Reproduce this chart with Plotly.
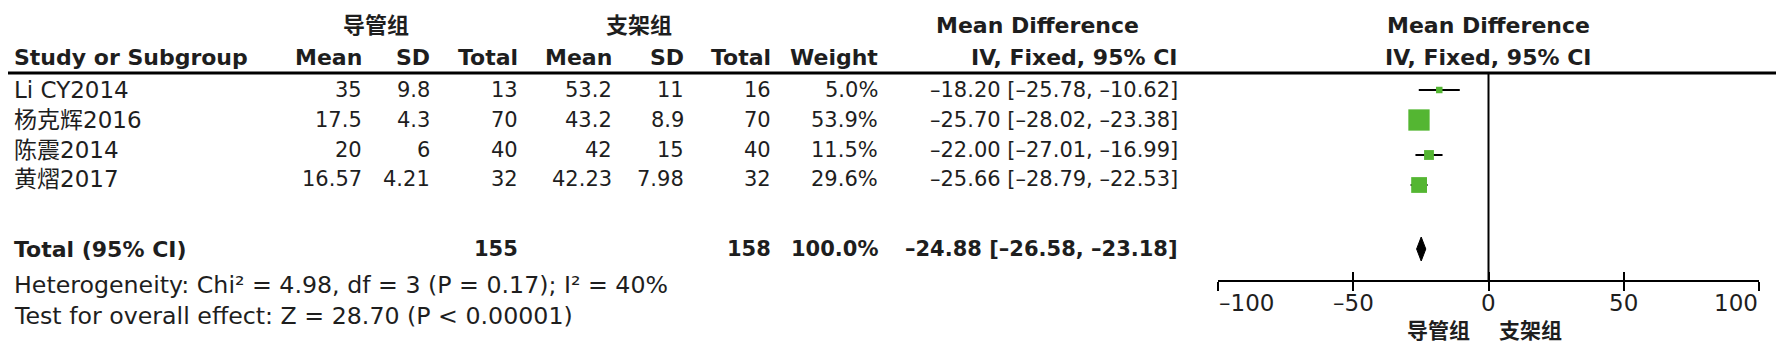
import plotly.graph_objects as go
import numpy as np

# ---------------- data ----------------
studies = ["Li CY2014", "杨克辉2016", "陈震2014", "黄熠2017"]
mean1 = [35, 17.5, 20, 16.57]
sd1 = [9.8, 4.3, 6, 4.21]
n1 = [13, 70, 40, 32]
mean2 = [53.2, 43.2, 42, 42.23]
sd2 = [11, 8.9, 15, 7.98]
n2 = [16, 70, 40, 32]
weight = [5.0, 53.9, 11.5, 29.6]
md = [-18.20, -25.70, -22.00, -25.66]
lo = [-25.78, -28.02, -27.01, -28.79]
hi = [-10.62, -23.38, -16.99, -22.53]

total_n1 = 155
total_n2 = 158
total_weight = 100.0
total_md = -24.88
total_lo = -26.58
total_hi = -23.18

group1 = "导管组"
group2 = "支架组"
heterogeneity = "Heterogeneity: Chi² = 4.98, df = 3 (P = 0.17); I² = 40%"
overall = "Test for overall effect: Z = 28.70 (P < 0.00001)"
tickvals = [-100, -50, 0, 50, 100]
ticktext = ["–100", "–50", "0", "50", "100"]

# ---------------- layout constants ----------------
W, H = 1789, 351
FONT = "DejaVu Sans, Noto Sans CJK SC, sans-serif"
FS = 21          # numbers
FS_LABEL = 23    # study names
FS_FOOT = 23.7   # footer lines
FS_HEAD = 22     # bold headers
FS_TICK = 23
TXT = "#1e1e1e"
GREEN = "rgb(84,182,50)"

row_text_y = [90, 120, 150, 179]
row_mark_y = [90, 120, 155, 185]
total_y = 249
het_y = 285
test_y = 316
hdr1_y = 25
hdr2_y = 57
line_y = 73
axis_y = 281
tick_label_y = 303
fav_y = 331

col_left_study = 13
col_mean1 = 363
col_sd1 = 431
col_n1 = 519
col_mean2 = 613
col_sd2 = 685
col_n2 = 772
col_w = 879
col_ci = 1179

x_left_px, x_right_px = 1218, 1759


def fx(px):
    return px / W


def fmt(v):
    return f"{v:g}"


def ci_text(m, l, h):
    return f"{m:.2f} [{l:.2f}, {h:.2f}]".replace("-", "–")


fig = go.Figure()
ann = []


def add(text, x, y, anchor="right", bold=False, size=FS):
    t = f"<b>{text}</b>" if bold else text
    ann.append(dict(text=t, x=fx(x), y=y, xref="paper", yref="y",
                    xanchor=anchor, yanchor="middle", showarrow=False,
                    borderpad=0,
                    font=dict(family=FONT, size=size, color=TXT)))


# headers
add(group1, 376, hdr1_y, "center", True, FS_HEAD)
add(group2, 639, hdr1_y, "center", True, FS_HEAD)
add("Mean Difference", 1037, hdr1_y, "center", True, FS_HEAD)
add("Mean Difference", 1488, hdr1_y, "center", True, FS_HEAD)
add("Study or Subgroup", col_left_study, hdr2_y, "left", True, FS_HEAD)
for x, t in [(col_mean1, "Mean"), (col_sd1, "SD"), (col_n1, "Total"),
             (col_mean2, "Mean"), (col_sd2, "SD"), (col_n2, "Total"),
             (col_w, "Weight"), (col_ci, "IV, Fixed, 95% CI")]:
    add(t, x, hdr2_y, "right", True, FS_HEAD)
add("IV, Fixed, 95% CI", 1488, hdr2_y, "center", True, FS_HEAD)

# study rows
for i, s in enumerate(studies):
    y = row_text_y[i]
    add(s, col_left_study, y, "left", size=FS_LABEL)
    add(fmt(mean1[i]), col_mean1, y)
    add(fmt(sd1[i]), col_sd1, y)
    add(fmt(n1[i]), col_n1, y)
    add(fmt(mean2[i]), col_mean2, y)
    add(fmt(sd2[i]), col_sd2, y)
    add(fmt(n2[i]), col_n2, y)
    add(f"{weight[i]:.1f}%", col_w, y)
    add(ci_text(md[i], lo[i], hi[i]), col_ci, y)

# total row
add("Total (95% CI)", col_left_study, total_y, "left", True, FS_HEAD)
add(str(total_n1), col_n1, total_y, "right", True)
add(str(total_n2), col_n2, total_y, "right", True)
add(f"{total_weight:.1f}%", col_w, total_y, "right", True)
add(ci_text(total_md, total_lo, total_hi), col_ci, total_y, "right", True)
add(heterogeneity, col_left_study, het_y, "left", size=FS_FOOT)
add(overall, col_left_study, test_y, "left", size=FS_FOOT)

# axis tick labels (end labels kept inside the axis extent)
for k, (tv, tt) in enumerate(zip(tickvals, ticktext)):
    anchor = "left" if k == 0 else ("right" if k == len(tickvals) - 1 else "center")
    ann.append(dict(text=tt, x=tv, y=tick_label_y, xref="x", yref="y",
                    xanchor=anchor, yanchor="middle", showarrow=False,
                    borderpad=0,
                    font=dict(family=FONT, size=FS_TICK, color=TXT)))

# favours labels under axis
ann.append(dict(text=f"<b>{group1}</b>", x=-6, y=fav_y, xref="x", yref="y",
                xanchor="right", yanchor="middle", showarrow=False,
                font=dict(family=FONT, size=FS, color=TXT)))
ann.append(dict(text=f"<b>{group2}</b>", x=3, y=fav_y, xref="x", yref="y",
                xanchor="left", yanchor="middle", showarrow=False,
                font=dict(family=FONT, size=FS, color=TXT)))

# CI lines (drawn first, under the squares)
ci_x, ci_y = [], []
for i in range(len(md)):
    ci_x += [lo[i], hi[i], None]
    ci_y += [row_mark_y[i], row_mark_y[i], None]
fig.add_trace(go.Scatter(x=ci_x, y=ci_y, mode="lines",
                         line=dict(color="black", width=2),
                         cliponaxis=False, showlegend=False,
                         hoverinfo="skip"))

# study squares (area proportional to weight)
w = np.array(weight)
sizes = 2.9 * np.sqrt(w)
fig.add_trace(go.Scatter(
    x=md, y=row_mark_y, mode="markers",
    marker=dict(symbol="square", size=sizes, color=GREEN, opacity=1,
                line=dict(width=0)),
    cliponaxis=False, showlegend=False, hoverinfo="skip"))

# total diamond
dh = 12
fig.add_trace(go.Scatter(
    x=[total_lo, total_md, total_hi, total_md, total_lo],
    y=[total_y, total_y - dh, total_y, total_y + dh, total_y],
    mode="lines", fill="toself", fillcolor="black",
    line=dict(color="black", width=1), cliponaxis=False,
    showlegend=False, hoverinfo="skip"))

shapes = [
    dict(type="line", xref="paper", yref="y", x0=fx(8), x1=fx(1776),
         y0=line_y, y1=line_y, line=dict(color="black", width=3)),
    dict(type="line", xref="x", yref="y", x0=0, x1=0, y0=line_y, y1=axis_y,
         line=dict(color="black", width=2)),
]

pos = 1 - axis_y / H
fig.update_layout(
    width=W, height=H, margin=dict(l=0, r=0, t=0, b=0, pad=0),
    paper_bgcolor="white", plot_bgcolor="white",
    xaxis=dict(domain=[fx(x_left_px), fx(x_right_px)], range=[-100, 100],
               anchor="free", position=pos, showline=True, linecolor="black",
               linewidth=2, ticks="outside", ticklen=9, tickwidth=2,
               tickcolor="black", tickvals=tickvals, showticklabels=False,
               automargin=False, showgrid=False, zeroline=False,
               fixedrange=True),
    xaxis2=dict(domain=[fx(x_left_px), fx(x_right_px)], range=[-100, 100],
                anchor="free", position=pos, overlaying="x",
                matches="x", showline=False, ticks="inside", ticklen=9,
                tickwidth=2, tickcolor="black", tickvals=tickvals,
                showticklabels=False, showgrid=False, zeroline=False,
                automargin=False),
    yaxis=dict(domain=[0, 1], range=[H, 0], visible=False, fixedrange=True,
               automargin=False),
    annotations=ann, shapes=shapes,
)
# invisible point that activates xaxis2
fig.add_trace(go.Scatter(x=[0], y=[axis_y], xaxis="x2", mode="markers",
                         marker=dict(opacity=0), showlegend=False,
                         hoverinfo="skip"))

fig.write_html("out.html")
